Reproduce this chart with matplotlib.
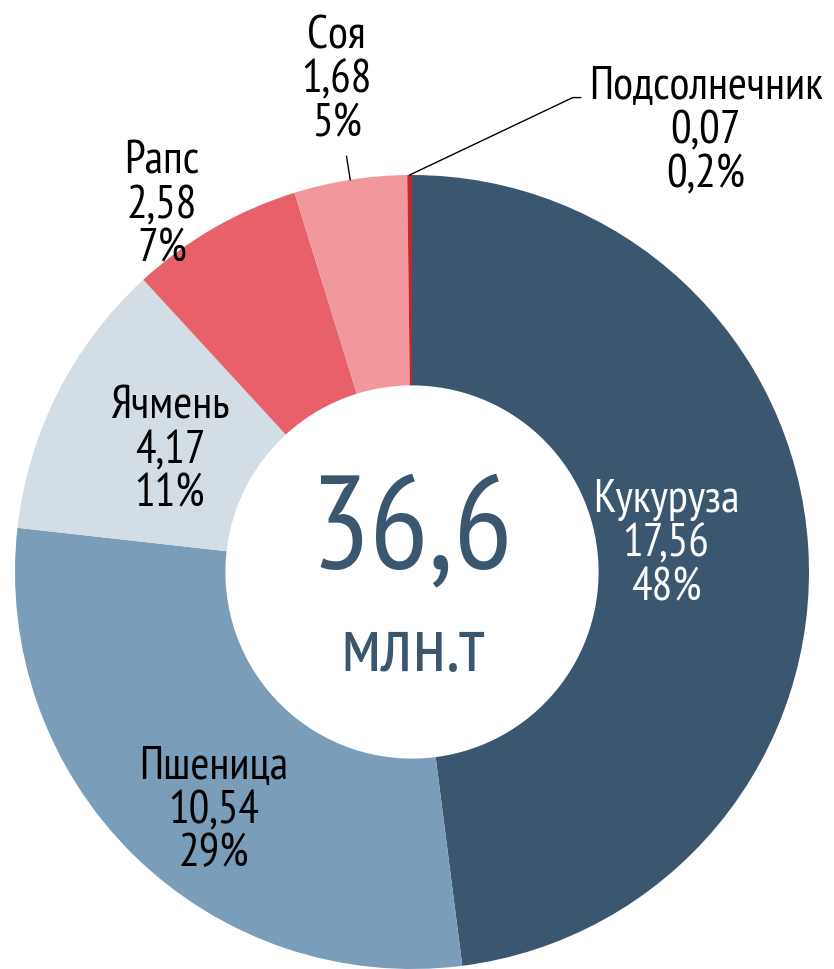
import numpy as np
import matplotlib.pyplot as plt

plt.rcParams['font.family'] = ['PT Sans Narrow', 'DejaVu Sans']

names = ['Кукуруза', 'Пшеница', 'Ячмень', 'Рапс', 'Соя', 'Подсолнечник']
values = [17.56, 10.54, 4.17, 2.58, 1.68, 0.07]
value_labels = ['17,56', '10,54', '4,17', '2,58', '1,68', '0,07']
pct_labels = ['48%', '29%', '11%', '7%', '5%', '0,2%']
colors = ['#3b5770', '#7a9db9', '#d3dde6', '#e8606a', '#f0989b', '#c0282d']
total_label = '36,6'
unit_label = 'млн.т'

fig = plt.figure(figsize=(8.34, 9.69), dpi=100)
ax = fig.add_axes([0, 0, 1, 1])

wedges, _ = ax.pie(values, colors=colors, startangle=90, counterclock=False,
                   radius=1.0, wedgeprops=dict(width=0.53, linewidth=0))

# label spots (data units, radius = 1)
spots = [(0.64, 0.07), (-0.50, -0.60), (-0.61, 0.307),
         (-0.63, 0.924), (-0.19, 1.239), (0.74, 1.113)]
for i in range(len(names)):
    txt = names[i] + '\n' + value_labels[i] + '\n' + pct_labels[i]
    col = 'white' if i == 0 else 'black'
    ax.text(spots[i][0], spots[i][1], txt, ha='center', va='center',
            fontsize=33, color=col, linespacing=1.06)

# leader for Соя
w = wedges[4]
ang = np.deg2rad((w.theta1 + w.theta2) / 2)
ax.plot([np.cos(ang) * 1.0, np.cos(ang) * 1.06], [np.sin(ang) * 1.0, np.sin(ang) * 1.06],
        color='black', lw=1)

# leader for Подсолнечник
w = wedges[5]
ang = np.deg2rad((w.theta1 + w.theta2) / 2)
x0, y0 = np.cos(ang), np.sin(ang)
ax.plot([x0, 0.405, 0.425], [y0, 1.195, 1.195], color='black', lw=1)

ax.text(0, 0.095, total_label, ha='center', va='center', fontsize=95, color='#3b5770')
ax.text(0, -0.2, unit_label, ha='center', va='center', fontsize=56, color='#3b5770')

ax.set_xlim(-412 / 397, (834 - 412) / 397)
ax.set_ylim(-397 / 397, 572 / 397)
ax.set_aspect('auto')
ax.axis('off')

fig.savefig('out.png', dpi=100)
